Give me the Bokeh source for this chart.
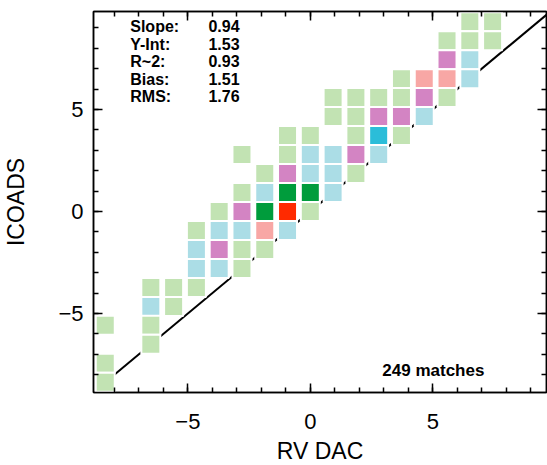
from bokeh.plotting import figure
from bokeh.models import Range1d, LinearAxis, FixedTicker, ColumnDataSource, CustomLabelingPolicy
from bokeh.core.properties import value
from bokeh.embed import file_html
from bokeh.resources import INLINE

# ---------------- data ----------------
BIN = 0.93  # bin width (data units)
bin_x = [7, 8,
         6, 7, 8,
         6, 7,
         4, 5, 6, 7,
         1, 2, 3, 4, 5, 6,
         1, 2, 3, 4, 5,
         -1, 0, 2, 3, 4,
         -3, -1, 0, 1, 2, 3,
         -2, -1, 0, 1, 2,
         -3, -2, -1, 0, 1,
         -4, -3, -2, -1, 0,
         -5, -4, -3, -2, -1,
         -5, -4, -3, -2,
         -5, -4, -3,
         -7, -6, -5,
         -7, -6,
         -9, -7,
         -7,
         -9,
         -9]
bin_y = [10, 10,
         9, 9, 9,
         8, 8,
         7, 7, 7, 7,
         6, 6, 6, 6, 6, 6,
         5, 5, 5, 5, 5,
         4, 4, 4, 4, 4,
         3, 3, 3, 3, 3, 3,
         2, 2, 2, 2, 2,
         1, 1, 1, 1, 1,
         0, 0, 0, 0, 0,
         -1, -1, -1, -1, -1,
         -2, -2, -2, -2,
         -3, -3, -3,
         -4, -4, -4,
         -5, -5,
         -6, -6,
         -7,
         -8,
         -9]
counts = [1, 1,
          2, 1, 1,
          5, 3,
          2, 7, 8, 3,
          1, 2, 2, 2, 5, 2,
          1, 2, 6, 5, 4,
          1, 2, 2, 9, 2,
          1, 2, 4, 3, 6, 4,
          2, 6, 4, 3, 2,
          1, 4, 13, 12, 3,
          1, 5, 14, 20, 2,
          1, 4, 3, 7, 4,
          3, 6, 2, 2,
          4, 3, 2,
          1, 2, 2,
          3, 1,
          1, 1,
          1,
          1,
          1]
level_min = [1, 3, 5, 7, 9, 11, 16]
palette = ["#c2e3b3", "#abdde6", "#d384c3", "#f8a7a5", "#2bbdd9", "#009c3c", "#ff2a00"]

stat_names = ["Slope:", "Y-Int:", "R~2:", "Bias:", "RMS:"]
stat_values = ["0.94", "1.53", "0.93", "1.51", "1.76"]
n_matches = 249

tick_values = [-5, 0, 5]
tick_labels = ["\u22125", "0", "5"]

# ---------------- figure ----------------
def color_for(c):
    col = palette[0]
    for lv, pc in zip(level_min, palette):
        if c >= lv:
            col = pc
    return col

src = ColumnDataSource(dict(
    x=[k * BIN for k in bin_x],
    y=[j * BIN for j in bin_y],
    c=[color_for(c) for c in counts],
))

p = figure(frame_width=453, frame_height=381,
           x_range=Range1d(-8.85, 9.64), y_range=Range1d(-8.87, 9.80),
           output_backend="svg", toolbar_location=None,
           min_border_left=93, min_border_right=0, min_border_top=10, min_border_bottom=74)
p.xgrid.visible = False
p.ygrid.visible = False
p.background_fill_color = "white"
p.border_fill_color = "white"
p.outline_line_color = "black"
p.outline_line_width = 1.5

# one-to-one line
p.line(x=[-8, 10], y=[-8, 10], line_color="black", line_width=2)

# cells
p.rect(x="x", y="y", width=19, height=19, width_units="screen", height_units="screen",
       fill_color="c", line_color="white", line_width=2, source=src)

FONT = "Liberation Sans"

def style_axis(ax, labels=True):
    ax.ticker = FixedTicker(ticks=tick_values, minor_ticks=list(range(-9, 11)))
    ax.major_tick_in = 9
    ax.major_tick_out = 0
    ax.minor_tick_in = 5
    ax.minor_tick_out = 0
    ax.major_tick_line_color = "black"
    ax.minor_tick_line_color = "black"
    ax.major_tick_line_width = 1.5
    ax.minor_tick_line_width = 1.5
    ax.axis_line_color = "black"
    ax.axis_line_width = 1.5
    if labels:
        ax.major_label_overrides = dict(zip(tick_values, tick_labels))
        ax.major_label_text_font = FONT
        ax.major_label_text_font_size = "22px"
        ax.major_label_text_color = "black"
        ax.axis_label_text_font = FONT
        ax.axis_label_text_font_size = "23px"
        ax.axis_label_text_font_style = "normal"
        ax.axis_label_text_color = "black"
    else:
        ax.major_label_policy = CustomLabelingPolicy(
            code="for (const i of Array.from(indices)) { indices.unset(i) }\nreturn indices")
        ax.major_label_standoff = 0

xa = p.xaxis[0]
ya = p.yaxis[0]
style_axis(xa)
style_axis(ya)
xa.axis_label = "RV DAC"
ya.axis_label = "ICOADS"
xa.major_label_standoff = 21
xa.axis_label_standoff = 6
ya.major_label_standoff = 10
ya.axis_label_standoff = 26

top = LinearAxis()
right = LinearAxis()
style_axis(top, labels=False)
style_axis(right, labels=False)
p.add_layout(top, "above")
p.add_layout(right, "right")

# statistics text
stat_y = [9.07, 8.19, 7.35, 6.47, 5.64]
p.text(x=[-7.35] * 5, y=stat_y, text=stat_names, text_font=value(FONT),
       text_font_style="bold", text_font_size="16px", text_baseline="middle",
       text_align="left", text_color="black")
p.text(x=[-4.16] * 5, y=stat_y, text=stat_values, text_font=value(FONT),
       text_font_style="bold", text_font_size="16px", text_baseline="middle",
       text_align="left", text_color="black")
p.text(x=[2.94], y=[-7.79], text=[f"{n_matches} matches"], text_font=value(FONT),
       text_font_style="bold", text_font_size="17px", text_baseline="middle",
       text_align="left", text_color="black")

open("out.html", "w").write(file_html(p, INLINE))
